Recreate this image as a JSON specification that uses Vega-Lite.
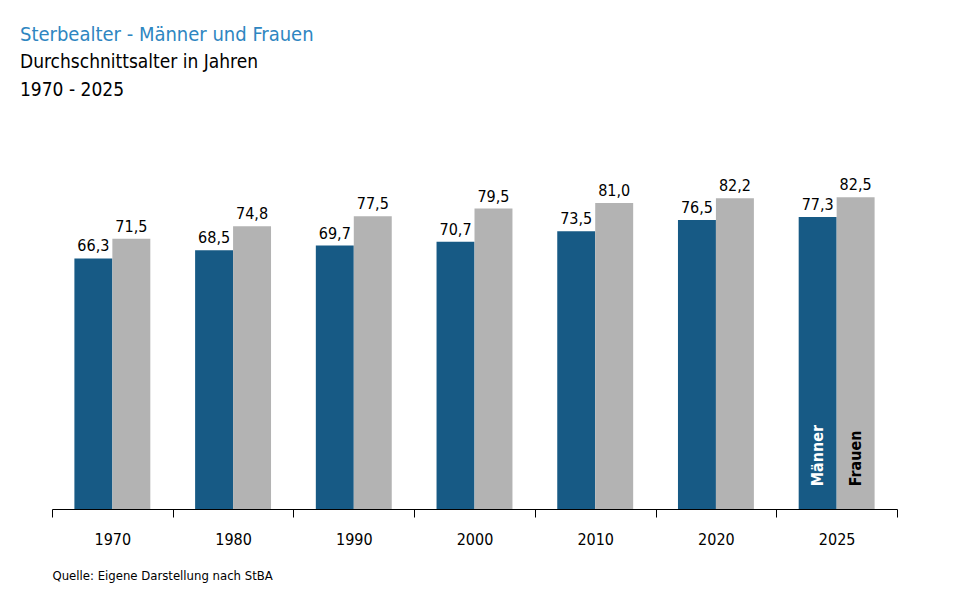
{
  "$schema": "https://vega.github.io/schema/vega-lite/v6.json",
  "width": 845,
  "height": 359,
  "autosize": {"type": "none"},
  "padding": {"left": 52, "top": 150, "right": 63, "bottom": 84},
  "background": "white",
  "title": {
    "text": "Sterbealter - Männer und Frauen",
    "subtitle": ["Durchschnittsalter  in Jahren", "1970 - 2025"],
    "anchor": "start",
    "frame": "group",
    "dx": -32,
    "offset": 50,
    "font": "DejaVu Sans Condensed",
    "fontSize": 20,
    "fontWeight": "normal",
    "color": "#2e86c1",
    "subtitleFont": "DejaVu Sans Condensed",
    "subtitleFontSize": 19,
    "subtitleColor": "#000000",
    "subtitlePadding": 8,
    "subtitleLineHeight": 28
  },
  "data": {
    "values": [
      {"jahr": "1970", "g": "Männer", "v": 66.3},
      {"jahr": "1970", "g": "Frauen", "v": 71.5},
      {"jahr": "1980", "g": "Männer", "v": 68.5},
      {"jahr": "1980", "g": "Frauen", "v": 74.8},
      {"jahr": "1990", "g": "Männer", "v": 69.7},
      {"jahr": "1990", "g": "Frauen", "v": 77.5},
      {"jahr": "2000", "g": "Männer", "v": 70.7},
      {"jahr": "2000", "g": "Frauen", "v": 79.5},
      {"jahr": "2010", "g": "Männer", "v": 73.5},
      {"jahr": "2010", "g": "Frauen", "v": 81.0},
      {"jahr": "2020", "g": "Männer", "v": 76.5},
      {"jahr": "2020", "g": "Frauen", "v": 82.2},
      {"jahr": "2025", "g": "Männer", "v": 77.3},
      {"jahr": "2025", "g": "Frauen", "v": 82.5}
    ]
  },
  "encoding": {
    "x": {
      "field": "jahr", "type": "nominal",
      "scale": {"paddingInner": 0, "paddingOuter": 0},
      "axis": {
        "labelAngle": 0, "labelFont": "DejaVu Sans Condensed", "labelFontSize": 16,
        "labelColor": "#000", "labelPadding": 14, "domainColor": "#000",
        "tickColor": "#000", "tickSize": 8, "tickBand": "extent",
        "title": "Quelle: Eigene Darstellung nach StBA",
        "titleFont": "DejaVu Sans Condensed", "titleFontSize": 13, "titleFontWeight": "normal",
        "titleAnchor": "start", "titleAlign": "left", "titlePadding": 22
      }
    },
    "xOffset": {"field": "g", "type": "nominal", "sort": ["Männer", "Frauen"], "scale": {"paddingInner": 0, "paddingOuter": 0.59}},
    "y": {
      "field": "v", "type": "quantitative",
      "scale": {"domain": [0, 95]},
      "axis": null
    }
  },
  "layer": [
    {
      "mark": {"type": "bar"},
      "encoding": {
        "color": {
          "field": "g", "type": "nominal",
          "scale": {"domain": ["Männer", "Frauen"], "range": ["#175a85", "#b3b3b3"]},
          "legend": null
        }
      }
    },
    {
      "mark": {"type": "text", "dy": -12, "font": "DejaVu Sans Condensed", "fontSize": 16, "color": "#000"},
      "encoding": {"text": {"field": "v", "type": "quantitative", "format": ".1f"}}
    },
    {
      "transform": [{"filter": "datum.jahr == '2025'"}],
      "mark": {"type": "text", "angle": -90, "align": "left", "baseline": "middle", "font": "DejaVu Sans Condensed", "fontSize": 16, "fontWeight": "bold"},
      "encoding": {
        "y": {"datum": 6},
        "text": {"field": "g", "type": "nominal"},
        "color": {"condition": {"test": "datum.g == 'Männer'", "value": "#ffffff"}, "value": "#000000"}
      }
    }
  ],
  "config": {"view": {"stroke": null}, "locale": {"number": {"decimal": ",", "thousands": ".", "grouping": [3], "currency": ["", " €"]}}}
}
